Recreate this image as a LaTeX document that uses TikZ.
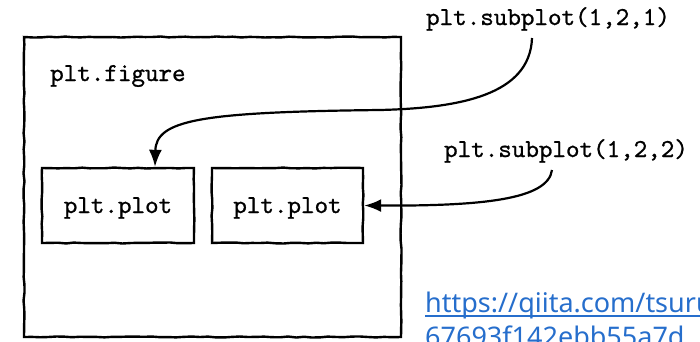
\documentclass[tikz,border=0pt]{standalone}
\usepackage{fontspec}
\setmainfont{Liberation Serif}
\newfontfamily\codefont[FakeBold=0.9]{lmmono10-regular.otf}
\newfontfamily\linkfont{Noto Sans}
\usetikzlibrary{arrows.meta,decorations.pathmorphing}
\definecolor{linkblue}{RGB}{38,110,204}
\begin{document}
\pgfmathsetseed{7}
\begin{tikzpicture}[x=1pt,y=-1pt,
  sketch/.style={decorate, decoration={random steps, segment length=8pt, amplitude=0.5pt}},
  box/.style={draw, line width=2.4pt, sketch, inner sep=0pt},
  code/.style={font=\codefont\fontsize{25.8}{30}\selectfont, inner sep=0pt},
  conn/.style={line width=2.2pt, -{Latex[length=17pt,width=13pt]}},
  link/.style={font=\linkfont\fontsize{27}{35}\selectfont, text=linkblue, inner sep=0pt, anchor=base west}]
  \clip (0,0) rectangle (700,341);
  \useasboundingbox (0,0) rectangle (700,341);

  % outer figure and its two axes boxes
  \node[box, minimum width=377pt, minimum height=300pt] (fig) at (212.5,187) {};
  \node[code, anchor=base west] (figlabel) at (50,81) {plt.figure};
  \node[box, minimum width=152pt, minimum height=75pt] (p1) at (118,205.5) {};
  \node[box, minimum width=151pt, minimum height=75pt] (p2) at (287.5,205.5) {};
  \node[code, anchor=base] (p1text) at (118,213) {plt.plot};
  \node[code, anchor=base] (p2text) at (287.5,213) {plt.plot};

  % subplot calls
  \node[code, anchor=base] (s1) at (548,25) {plt.subplot(1,2,1)};
  \node[code, anchor=base] (s2) at (566,157) {plt.subplot(1,2,2)};

  \draw[conn] ([xshift=-16pt]s1.south |- 0,38)
    .. controls (530,95) and (460,108) .. (380,110)
    .. controls (200,112) and (156,120) .. ([xshift=37pt]p1.north);
  \draw[conn] ([xshift=-14pt]s2.south |- 0,170)
    .. controls (548,200) and (480,206) .. (p2.east);

  % source link
  \node[link] (url1) at (425,312) {https://qiita.com/tsuru};
  \node[link] (url2) at (425,346) {67693f142ebb55a7d};
  \draw[linkblue, line width=1.2pt] ([yshift=-4pt]url1.base west) -- ([yshift=-4pt]url1.base east);
  \draw[linkblue, line width=1.2pt] ([yshift=-4pt]url2.base west) -- ([yshift=-4pt]url2.base east);
\end{tikzpicture}
\end{document}
